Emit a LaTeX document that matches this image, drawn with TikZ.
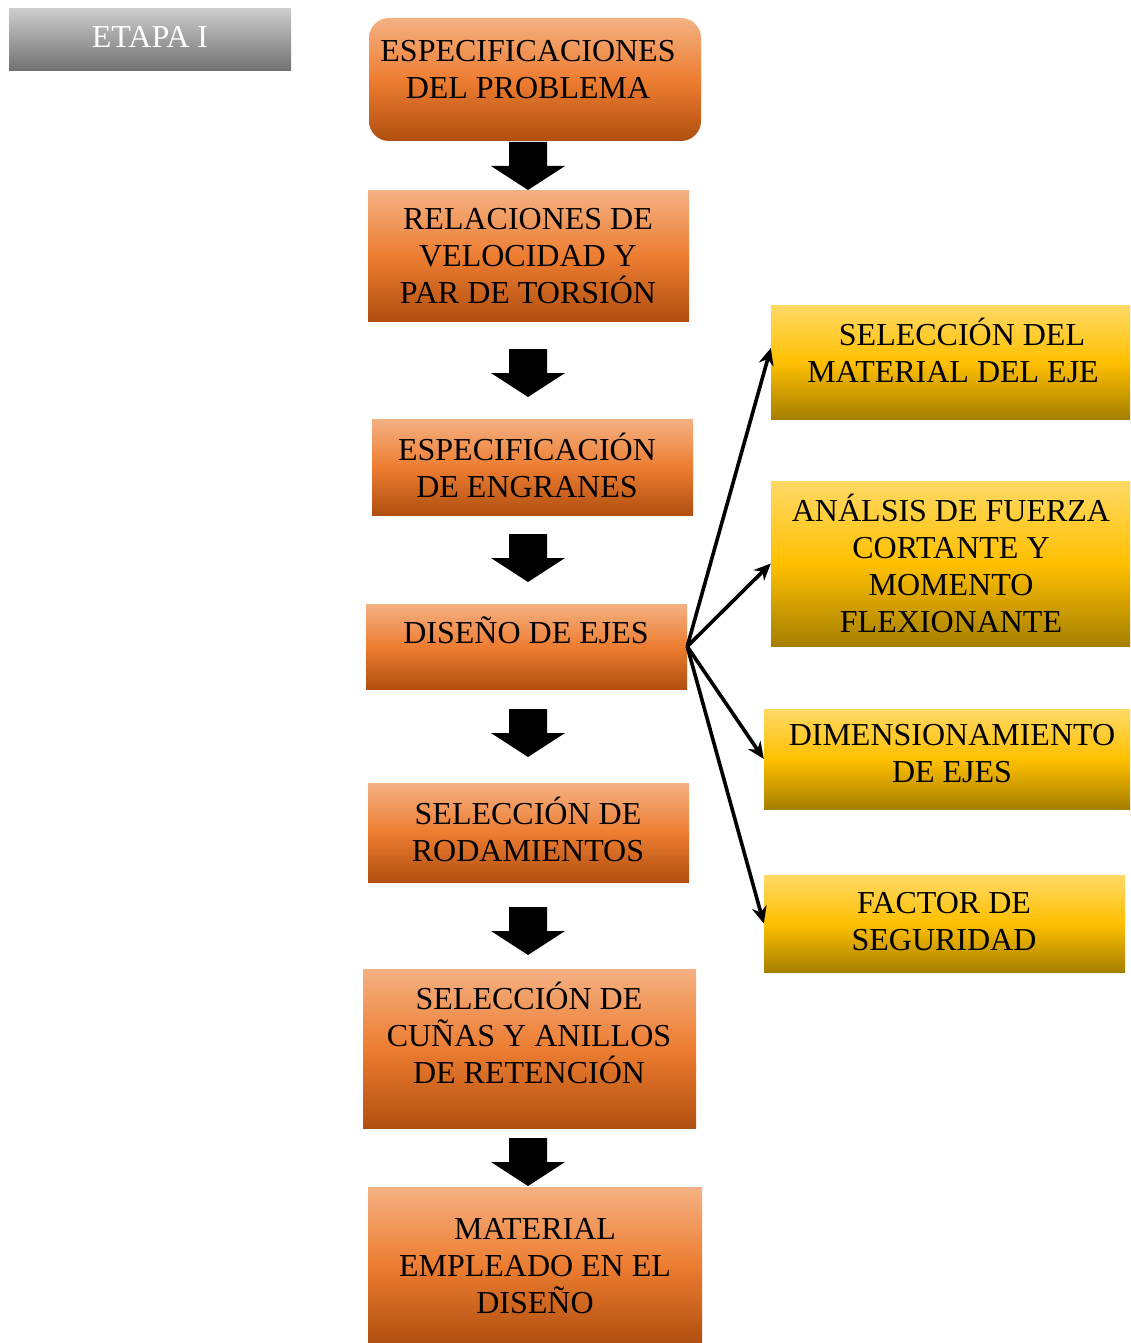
\documentclass[tikz,border=0pt]{standalone}
\usepackage{fontspec}
\setmainfont{Liberation Serif}
\usetikzlibrary{arrows.meta}

\definecolor{orTop}{HTML}{F4B183}
\definecolor{orMid}{HTML}{ED7D31}
\definecolor{orBot}{HTML}{B04F10}
\definecolor{yeTop}{HTML}{FFD966}
\definecolor{yeMid}{HTML}{FFC000}
\definecolor{yeBot}{HTML}{A67F00}
\definecolor{grTop}{HTML}{CCCCCC}
\definecolor{grBot}{HTML}{707070}

\tikzset{
  obox/.style={rectangle, inner sep=0pt, top color=orTop, bottom color=orBot, middle color=orMid},
  ybox/.style={rectangle, inner sep=0pt, top color=yeTop, bottom color=yeBot, middle color=yeMid},
  gbox/.style={rectangle, inner sep=0pt, top color=grTop, bottom color=grBot},
  txt/.style={align=center, inner sep=0pt, font=\fontsize{32}{37}\selectfont},
  conn/.style={line width=3.6pt, -{Stealth[length=17pt,width=15pt]}}
}

\begin{document}
\begin{tikzpicture}[x=1pt,y=-1pt]
\useasboundingbox (0,0) rectangle (1130,1343);

\node[gbox, minimum width=282pt, minimum height=62pt] (etapa) at (150,40) {};
\node[txt, text=white] (etapa-t) at (150,37) {ETAPA I};

% columna principal
\node[obox, rounded corners=20pt, minimum width=332pt, minimum height=123pt] (esp) at (535,79.5) {};
\node[txt] (esp-t) at (528,70) {ESPECIFICACIONES\\DEL PROBLEMA};
\node[obox, minimum width=321pt, minimum height=130pt] (rel) at (528.5,256) {};
\node[txt] (rel-t) at (528,256) {RELACIONES DE\\VELOCIDAD Y\\PAR DE TORSIÓN};
\node[obox, minimum width=321pt, minimum height=96pt] (eng) at (532.5,467) {};
\node[txt] (eng-t) at (527,465) {ESPECIFICACIÓN\\DE ENGRANES};
\node[obox, minimum width=321pt, minimum height=85pt] (eje) at (526.5,646.5) {};
\node[txt] (eje-t) at (526,630) {DISEÑO DE EJES};
\node[obox, minimum width=321pt, minimum height=99pt] (rod) at (528.5,832.5) {};
\node[txt] (rod-t) at (528,829) {SELECCIÓN DE\\RODAMIENTOS};
\node[obox, minimum width=333pt, minimum height=159pt] (cun) at (529.5,1048.5) {};
\node[txt] (cun-t) at (529,1033) {SELECCIÓN DE\\CUÑAS Y ANILLOS\\DE RETENCIÓN};
\node[obox, minimum width=334pt, minimum height=156pt] (mat) at (535,1265) {};
\node[txt] (mat-t) at (535,1266) {MATERIAL\\EMPLEADO EN EL\\DISEÑO};

% columna derecha
\node[ybox, minimum width=359pt, minimum height=114pt] (selm) at (950.5,362) {};
\node[txt] (selm-t) at (953,350) {\hspace*{18pt}SELECCIÓN DEL\\MATERIAL DEL EJE};
\node[ybox, minimum width=359pt, minimum height=165pt] (anal) at (950.5,563.5) {};
\node[txt] (anal-t) at (951,563) {ANÁLSIS DE FUERZA\\CORTANTE Y\\MOMENTO\\FLEXIONANTE};
\node[ybox, minimum width=366pt, minimum height=100pt] (dim) at (947,759) {};
\node[txt] (dim-t) at (952,754) {DIMENSIONAMIENTO\\DE EJES};
\node[ybox, minimum width=361pt, minimum height=97pt] (fac) at (944.5,923.5) {};
\node[txt] (fac-t) at (944,922) {FACTOR DE\\SEGURIDAD};

% flechas gruesas
\foreach \t in {142,349,534,709,907,1138}
  \fill[shift={(528,\t)}] (-19,0) -- (19,0) -- (19,24) -- (37,24) -- (0,48) -- (-37,24) -- (-19,24) -- cycle;

\draw[conn] (eje.east) -- ([yshift=14pt]selm.west);
\draw[conn] (eje.east) -- (anal.west);
\draw[conn] (eje.east) -- (dim.west);
\draw[conn] (eje.east) -- (fac.west);
\end{tikzpicture}
\end{document}
